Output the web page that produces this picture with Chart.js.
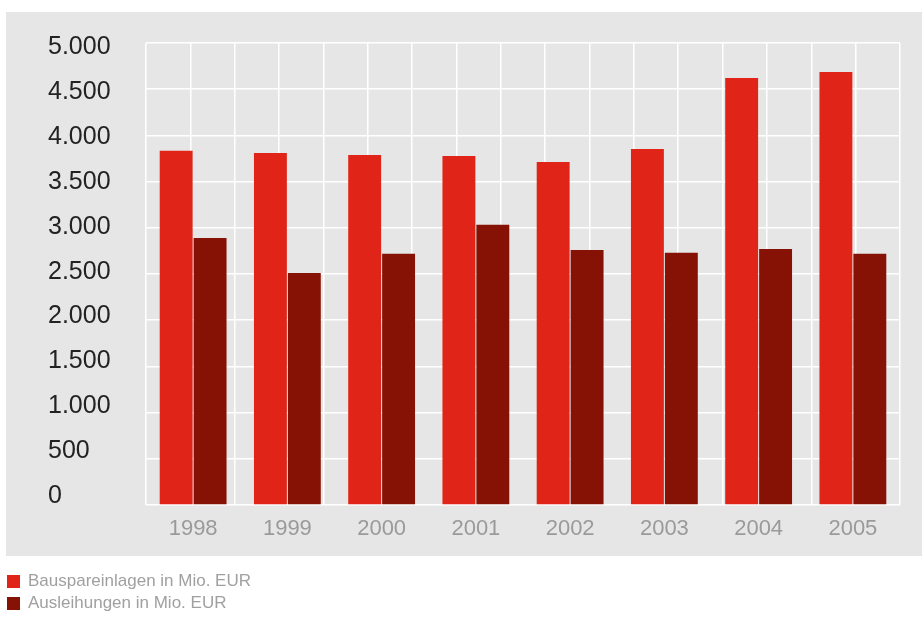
<!DOCTYPE html>
<html>
<head>
<meta charset="utf-8">
<script src="https://cdn.jsdelivr.net/npm/chart.js@4/dist/chart.umd.min.js"></script>
<style>
html,body{margin:0;padding:0;background:#fff;}
#wrap{position:relative;width:922px;height:636px;}
#c{position:absolute;left:0;top:0;}
#legend{position:absolute;left:7px;top:570px;font-family:'Liberation Sans',Arial,sans-serif;font-size:17px;color:#a0a0a0;}
#legend .row{height:22px;line-height:22px;display:flex;align-items:center;white-space:nowrap;}
#legend .sw{width:13px;height:13px;margin-right:8px;flex:none;}
</style>
</head>
<body>
<div id="wrap"><canvas id="c" width="922" height="636"></canvas><div id="legend"></div></div>
<script>
const years = ['1998','1999','2000','2001','2002','2003','2004','2005'];
const bausparEinlagen = [3800, 3775, 3755, 3745, 3680, 3820, 4580, 4645];
const ausleihungen = [2865, 2490, 2695, 3005, 2735, 2705, 2745, 2695];
const yTickLabels = ['0','500','1.000','1.500','2.000','2.500','3.000','3.500','4.000','4.500','5.000'];
const seriesNames = ['Bauspareinlagen in Mio. EUR', 'Ausleihungen in Mio. EUR'];
const seriesColors = ['#e02418', '#861206'];
const LABEL_MIN = -96, LABEL_MAX = 5044;

const panelBg = {
  id: 'panelBg',
  beforeDraw(chart) {
    const ctx = chart.ctx;
    ctx.save();
    ctx.fillStyle = '#e6e6e6';
    ctx.fillRect(6, 12, 916, 544);
    ctx.restore();
  }
};

const chart = new Chart(document.getElementById('c'), {
  type: 'bar',
  data: {
    labels: years,
    datasets: [
      { label: seriesNames[0], data: bausparEinlagen, backgroundColor: seriesColors[0], borderWidth: 0,
        categoryPercentage: 0.72, barPercentage: 0.97 },
      { label: seriesNames[1], data: ausleihungen, backgroundColor: seriesColors[1], borderWidth: 0,
        categoryPercentage: 0.72, barPercentage: 0.97 }
    ]
  },
  options: {
    responsive: false,
    animation: false,
    devicePixelRatio: 1,
    layout: { padding: { left: 48, right: 22, top: 43, bottom: 81 } },
    plugins: {
      tooltip: { enabled: false },
      legend: { display: false }
    },
    scales: {
      x: {
        type: 'category',
        position: 'bottom',
        grid: { display: false },
        border: { display: false },
        ticks: {
          color: '#9a9a9a', padding: 3,
          font: { family: 'Liberation Sans, Arial, sans-serif', size: 22 }
        },
        afterFit(s) { s.height = 50; }
      },
      xg: {
        type: 'linear',
        position: 'top',
        min: 0, max: 16,
        grid: { color: '#ffffff', lineWidth: 1.5, drawTicks: false },
        border: { display: false },
        ticks: { display: false, stepSize: 1 },
        afterFit(s) { s.height = 0; }
      },
      y: {
        type: 'linear',
        position: 'left',
        weight: 0,
        min: 0, max: 4956,
        grid: { color: '#ffffff', lineWidth: 1.5, drawTicks: false },
        border: { display: false },
        ticks: { display: false, stepSize: 500 },
        afterFit(s) { s.width = 0; }
      },
      yl: {
        type: 'linear',
        position: 'left',
        weight: 1,
        bounds: 'data',
        min: LABEL_MIN, max: LABEL_MAX,
        grid: { display: false, drawTicks: false },
        border: { display: false },
        ticks: {
          stepSize: 500, includeBounds: false, autoSkip: false,
          crossAlign: 'far', padding: 0,
          color: '#222222',
          font: { family: 'Liberation Sans, Arial, sans-serif', size: 25 },
          callback: (v) => yTickLabels[Math.round(v / 500)]
        },
        afterBuildTicks(s) {
          s.ticks = yTickLabels.map((_, i) => ({ value: i * 500 }));
          s.min = LABEL_MIN;
          s.max = LABEL_MAX;
        },
        afterFit(s) { s.width = 98; }
      }
    }
  },
  plugins: [panelBg]
});

const legendEl = document.getElementById('legend');
chart.data.datasets.forEach((ds) => {
  const row = document.createElement('div');
  row.className = 'row';
  const sw = document.createElement('span');
  sw.className = 'sw';
  sw.style.background = ds.backgroundColor;
  const tx = document.createElement('span');
  tx.textContent = ds.label;
  row.appendChild(sw);
  row.appendChild(tx);
  legendEl.appendChild(row);
});
</script>
</body>
</html>
